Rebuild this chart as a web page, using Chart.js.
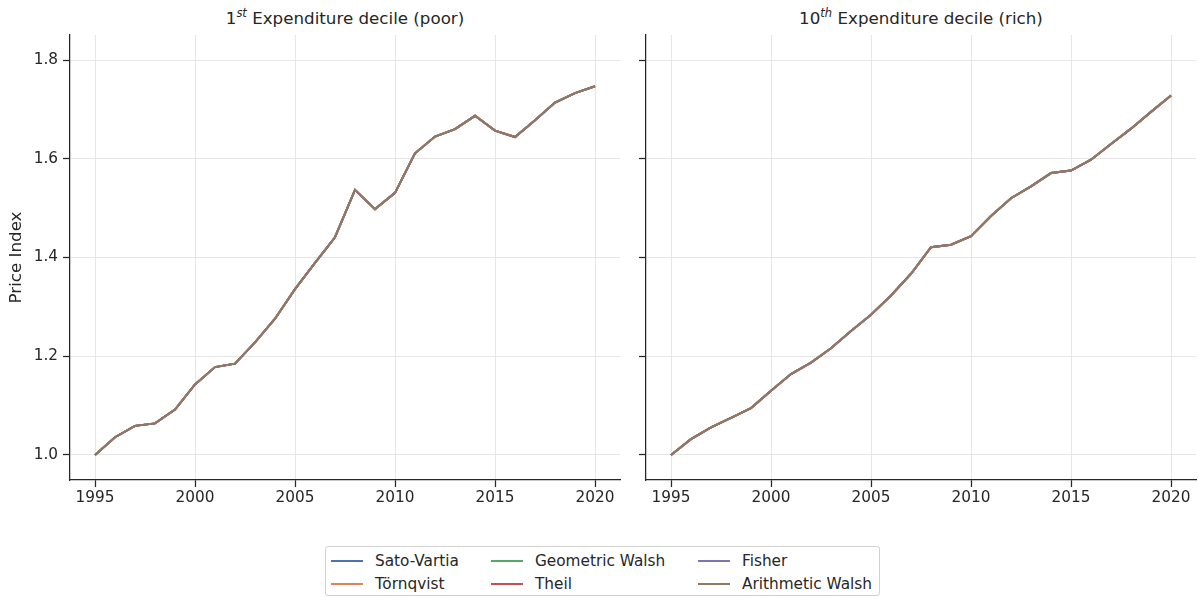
<!DOCTYPE html>
<html>
<head>
<meta charset="utf-8">
<script src="https://cdn.jsdelivr.net/npm/chart.js@4/dist/chart.umd.min.js"></script>
<style>
  html, body { margin:0; padding:0; background:#fff; }
  body { width:1199px; height:597px; position:relative; overflow:hidden; font-family:"DejaVu Sans", sans-serif; color:#262626; }
  .panel { position:absolute; top:0; height:520px; }
  .ptitle { position:absolute; top:8px; font-size:16.7px; text-align:center; white-space:nowrap; }
  .ptitle sup { font-size:11.5px; font-style:italic; vertical-align:7px; line-height:0; }
  #legend { position:absolute; left:325px; top:546px; width:555px; height:50px; border:1px solid #d0d0d0; border-radius:3px;
            display:grid; grid-template-columns:160px 207px 180px; grid-template-rows:23px 23px; grid-auto-flow:column; padding:2px 0 0 5px; box-sizing:border-box; font-size:15.3px; }
  .li { display:flex; align-items:center; }
  .sw { width:32px; height:2px; margin-right:12px; }
</style>
</head>
<body>
<div class="ptitle" style="left:70px;width:550px;">1<sup>st</sup> Expenditure decile (poor)</div>
<div class="ptitle" style="left:646px;width:550px;">10<sup>th</sup> Expenditure decile (rich)</div>
<div class="panel" style="left:0;width:630px;"><canvas id="poorChart"></canvas></div>
<div class="panel" style="left:616px;width:583px;"><canvas id="richChart"></canvas></div>
<div id="legend"></div>
<script>
(function() {

  // ─── DATA ───
  const years = [1995,1996,1997,1998,1999,2000,2001,2002,2003,2004,2005,2006,2007,2008,2009,2010,2011,2012,2013,2014,2015,2016,2017,2018,2019,2020];
  const poorIndex = [1.000,1.036,1.059,1.064,1.092,1.143,1.178,1.185,1.228,1.276,1.336,1.389,1.441,1.537,1.498,1.531,1.611,1.645,1.660,1.687,1.657,1.644,1.678,1.714,1.733,1.747];
  const richIndex = [1.000,1.032,1.056,1.075,1.095,1.130,1.164,1.187,1.216,1.251,1.284,1.323,1.367,1.421,1.426,1.443,1.484,1.520,1.544,1.571,1.576,1.598,1.630,1.661,1.695,1.728];
  const seriesNames = ['Sato-Vartia','Törnqvist','Geometric Walsh','Theil','Fisher','Arithmetic Walsh'];
  const seriesColors = ['#4c72b0','#dd8452','#55a868','#c44e52','#8172b3','#937860'];
  const xTicks = [1995,2000,2005,2010,2015,2020];
  const yTicks = [1.0,1.2,1.4,1.6,1.8];

  const C = {
    text: '#262626',
    grid: '#e6e6e6',
    spine: '#262626'
  };

  function datasets(values) {
    return seriesNames.map((name, i) => ({
      label: name,
      data: years.map((y, k) => ({ x: y, y: values[k] })),
      borderColor: seriesColors[i],
      backgroundColor: seriesColors[i],
      borderWidth: 2,
      pointRadius: 0,
      tension: 0,
      order: seriesNames.length - i
    }));
  }

  function opts(showYLabels) {
    return {
      responsive: true,
      maintainAspectRatio: false,
      animation: false,
      layout: { padding: { top: 35, right: showYLabels ? 10 : 3, left: 0, bottom: 0 } },
      plugins: { legend: { display: false }, tooltip: { enabled: false } },
      scales: {
        x: {
          type: 'linear', min: 1993.75, max: 2021.25,
          afterBuildTicks: s => { s.ticks = xTicks.map(v => ({ value: v })); },
          afterFit: s => { s.height = 40; },
          grid: { color: C.grid, lineWidth: 1, tickColor: C.spine, tickLength: 7, tickWidth: 1.25 },
          border: { display: true, color: C.spine, width: 1.25 },
          ticks: { color: C.text, font: { family: 'DejaVu Sans', size: 15.3 }, padding: 2, maxRotation: 0, callback: v => String(v) }
        },
        y: {
          min: 0.9493, max: 1.8507,
          afterBuildTicks: s => { s.ticks = yTicks.map(v => ({ value: v })); },
          afterFit: s => { s.width = showYLabels ? 70 : 30; },
          grid: { color: C.grid, lineWidth: 1, tickColor: C.spine, tickLength: 7, tickWidth: 1.25 },
          border: { display: true, color: C.spine, width: 1.25 },
          ticks: { display: showYLabels, color: C.text, font: { family: 'DejaVu Sans', size: 15.3 }, padding: 5, callback: v => v.toFixed(1) },
          title: { display: showYLabels, text: 'Price Index', color: C.text, font: { family: 'DejaVu Sans', size: 16.7 }, padding: { top: 7, bottom: 0 } }
        }
      }
    };
  }

  new Chart(document.getElementById('poorChart'), {
    type: 'line',
    data: { datasets: datasets(poorIndex) },
    options: opts(true)
  });

  new Chart(document.getElementById('richChart'), {
    type: 'line',
    data: { datasets: datasets(richIndex) },
    options: opts(false)
  });

  // ─── LEGEND ───
  const legend = document.getElementById('legend');
  seriesNames.forEach((name, i) => {
    const item = document.createElement('div');
    item.className = 'li';
    item.innerHTML = '<span class="sw" style="background:' + seriesColors[i] + '"></span><span>' + name + '</span>';
    legend.appendChild(item);
  });

})();
</script>
</body>
</html>
